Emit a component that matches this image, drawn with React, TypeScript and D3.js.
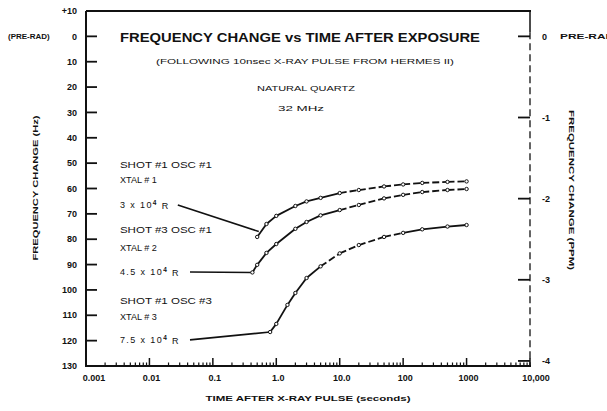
import React, { useEffect, useRef } from "react";
import * as d3 from "d3";

// ---- data ----
const times1 = [0.5, 0.7, 1, 2, 3, 5, 10, 20, 50, 100, 200, 500, 1000];
const hz1 = [-79.1, -74.0, -70.8, -66.9, -65.1, -63.7, -61.8, -60.6, -59.2, -58.4, -57.8, -57.4, -57.2];

const times2 = [0.42, 0.5, 0.7, 1, 2, 3, 5, 10, 20, 50, 100, 200, 500, 1000];
const hz2 = [-93.1, -90.1, -85.4, -81.9, -75.9, -73.2, -70.6, -68.5, -66.5, -63.9, -62.5, -61.4, -60.6, -60.2];

const times3 = [0.8, 1.0, 1.5, 2, 3, 5, 10, 20, 50, 100, 200, 500, 1000];
const hz3 = [-116.6, -113.4, -105.9, -101.2, -95.3, -90.7, -85.6, -82.3, -79.1, -77.5, -76.1, -75.0, -74.4];

// dashed portions of each curve (time ranges)
const dashFrom = [10, 10, 5];
const dashTo = [100000, 100000, 100];

// annotation leader lines: [time, Hz]
const leaderStart = [[0.028, -66.5], [0.0436, -92.9], [0.0436, -119.7]];
const leaderEnd = [[0.53, -77.0], [0.42, -93.1], [0.8, -116.6]];

const annotLines = [
  ["SHOT #1 OSC #1", "XTAL # 1", "3 x 10", "4", " R"],
  ["SHOT #3 OSC #1", "XTAL # 2", "4.5 x 10", "4", " R"],
  ["SHOT #1 OSC #3", "XTAL # 3", "7.5 x 10", "4", " R"],
];
const annotHz = [[-50.5, -56.5, -66.3], [-76.5, -83.5, -92.8], [-104.3, -110.5, -119.7]];

const hzTicks = [10, 0, -10, -20, -30, -40, -50, -60, -70, -80, -90, -100, -110, -120, -130];
const hzTickLabels = ["+10", "0", "10", "20", "30", "40", "50", "60", "70", "80", "90", "100", "110", "120", "130"];
const ppmTicks = [0, -1, -2, -3, -4];
const ppmTickLabels = ["0", "-1", "-2", "-3", "-4"];
const timeTicks = [0.001, 0.01, 0.1, 1, 10, 100, 1000, 10000];
const timeTickLabels = ["0.001", "0.01", "0.1", "1.0", "10.0", "100", "1000", "10,000"];

const MHZ = 32;

export default function App() {
  const ref = useRef<SVGSVGElement>(null);
  useEffect(() => {
    const svg = d3.select(ref.current);
    svg.selectAll("*").remove();
    const W = 607, H = 411;
    const x0 = 86, x1 = 530, y0 = 11, y1 = 366;
    const x = d3.scaleLog().domain([0.001, 10000]).range([x0, x1]);
    const y = d3.scaleLinear().domain([10, -130]).range([y0, y1]);
    const yp = d3.scaleLinear().domain([10 / MHZ, -130 / MHZ]).range([y0, y1]);
    const font = "'Liberation Sans', Arial, sans-serif";
    const ink = "#111";

    svg.append("rect").attr("width", W).attr("height", H).attr("fill", "#fff");

    // frame
    svg.append("line").attr("x1", x0).attr("x2", x1 + 1).attr("y1", y0).attr("y2", y0)
      .attr("stroke", ink).attr("stroke-width", 2);
    svg.append("line").attr("x1", x0).attr("x2", x0).attr("y1", y0).attr("y2", y1 + 1)
      .attr("stroke", ink).attr("stroke-width", 2);
    svg.append("line").attr("x1", x0).attr("x2", x1 + 1).attr("y1", y1).attr("y2", y1)
      .attr("stroke", ink).attr("stroke-width", 2.2);
    svg.append("line").attr("x1", x1).attr("x2", x1).attr("y1", y0).attr("y2", yp(0) - 4)
      .attr("stroke", ink).attr("stroke-width", 1.5);
    svg.append("line").attr("x1", x1).attr("x2", x1).attr("y1", yp(0) - 4).attr("y2", y1)
      .attr("stroke", ink).attr("stroke-width", 1.3).attr("stroke-dasharray", "7,4");

    // left ticks
    hzTicks.forEach((v, i) => {
      if (v !== 10 && v !== -130) {
        svg.append("line").attr("x1", x0).attr("x2", x0 + 11).attr("y1", y(v)).attr("y2", y(v))
          .attr("stroke", ink).attr("stroke-width", 1.8);
      }
      svg.append("text").attr("x", x0 - 9).attr("y", y(v)).attr("dy", "0.35em")
        .attr("text-anchor", "end").attr("font-family", font).attr("font-size", 9)
        .attr("font-weight", "bold").attr("fill", ink).text(hzTickLabels[i]);
    });
    svg.append("text").attr("x", 8).attr("y", y(0)).attr("dy", "0.35em")
      .attr("font-family", font).attr("font-size", 8).attr("font-weight", "bold").attr("fill", ink)
      .text("(PRE-RAD)");

    // right ticks
    ppmTicks.forEach((v, i) => {
      svg.append("line").attr("x1", x1 - 12).attr("x2", x1).attr("y1", yp(v)).attr("y2", yp(v))
        .attr("stroke", ink).attr("stroke-width", 1.8);
      svg.append("text").attr("x", x1 + 12).attr("y", yp(v)).attr("dy", "0.35em")
        .attr("font-family", font).attr("font-size", 9).attr("font-weight", "bold").attr("fill", ink)
        .text(ppmTickLabels[i]);
    });
    svg.append("text").attr("x", x1 + 30).attr("y", yp(0)).attr("dy", "0.35em")
      .attr("font-family", font).attr("font-size", 8).attr("font-weight", "bold").attr("fill", ink)
      .attr("textLength", 58).attr("lengthAdjust", "spacingAndGlyphs")
      .text("PRE-RAD)");

    // bottom ticks (log)
    const minor: number[] = [];
    for (let e = -3; e < 4; e++) for (let m = 2; m < 10; m++) minor.push(m * Math.pow(10, e));
    minor.forEach((v) => {
      svg.append("line").attr("x1", x(v)).attr("x2", x(v)).attr("y1", y1).attr("y2", y1 - 3.5)
        .attr("stroke", ink).attr("stroke-width", 1.2);
    });
    timeTicks.forEach((v, i) => {
      svg.append("line").attr("x1", x(v)).attr("x2", x(v)).attr("y1", y1).attr("y2", y1 - 8)
        .attr("stroke", ink).attr("stroke-width", 1.5);
      svg.append("text").attr("x", x(v) + (i === 0 ? 8 : i === 7 ? 6 : 2)).attr("y", y1 + 15)
        .attr("text-anchor", "middle").attr("font-family", font).attr("font-size", 9)
        .attr("font-weight", "bold").attr("fill", ink).text(timeTickLabels[i]);
    });

    // titles
    svg.append("text").attr("x", 300).attr("y", 42).attr("text-anchor", "middle")
      .attr("font-family", font).attr("font-size", 13.5).attr("font-weight", "bold").attr("fill", ink)
      .attr("textLength", 360).attr("lengthAdjust", "spacingAndGlyphs")
      .text("FREQUENCY CHANGE vs TIME AFTER EXPOSURE");
    svg.append("text").attr("x", 305).attr("y", 64).attr("text-anchor", "middle")
      .attr("font-family", font).attr("font-size", 8).attr("fill", ink)
      .attr("textLength", 298).attr("lengthAdjust", "spacingAndGlyphs")
      .text("(FOLLOWING 10nsec X-RAY PULSE FROM HERMES II)");
    svg.append("text").attr("x", 306).attr("y", 91).attr("text-anchor", "middle")
      .attr("font-family", font).attr("font-size", 8).attr("fill", ink)
      .attr("textLength", 98).attr("lengthAdjust", "spacingAndGlyphs")
      .text("NATURAL QUARTZ");
    svg.append("text").attr("x", 301).attr("y", 111).attr("text-anchor", "middle")
      .attr("font-family", font).attr("font-size", 8).attr("fill", ink)
      .attr("textLength", 46).attr("lengthAdjust", "spacingAndGlyphs")
      .text("32 MHz");

    svg.append("text").attr("transform", "translate(38,188) rotate(-90)").attr("text-anchor", "middle")
      .attr("font-family", font).attr("font-size", 8).attr("font-weight", "bold").attr("fill", ink)
      .attr("textLength", 145).attr("lengthAdjust", "spacingAndGlyphs")
      .text("FREQUENCY CHANGE (Hz)");
    svg.append("text").attr("transform", "translate(569,190) rotate(90)").attr("text-anchor", "middle")
      .attr("font-family", font).attr("font-size", 8).attr("font-weight", "bold").attr("fill", ink)
      .attr("textLength", 160).attr("lengthAdjust", "spacingAndGlyphs")
      .text("FREQUENCY CHANGE (PPM)");
    svg.append("text").attr("x", 308).attr("y", 401).attr("text-anchor", "middle")
      .attr("font-family", font).attr("font-size", 8).attr("font-weight", "bold").attr("fill", ink)
      .attr("textLength", 205).attr("lengthAdjust", "spacingAndGlyphs")
      .text("TIME AFTER X-RAY PULSE (seconds)");

    // annotations
    const annotLen = [92, 37];
    annotLines.forEach((lines, k) => {
      const ax = x(0.00343);
      [0, 1].forEach((j) => {
        svg.append("text").attr("x", ax).attr("y", y(annotHz[k][j])).attr("dy", "0.35em")
          .attr("font-family", font).attr("font-size", 9).attr("fill", ink)
          .attr("textLength", annotLen[j]).attr("lengthAdjust", "spacingAndGlyphs")
          .text(lines[j]);
      });
      const t = svg.append("text").attr("x", ax).attr("y", y(annotHz[k][2])).attr("dy", "0.35em")
        .attr("font-family", font).attr("font-size", 9).attr("letter-spacing", 1.4).attr("fill", ink);
      t.append("tspan").text(lines[2]);
      t.append("tspan").attr("dy", "-0.45em").attr("font-size", 6.5).attr("font-weight", "bold").text(lines[3]);
      t.append("tspan").attr("dy", "0.45em").text(lines[4]);
      svg.append("line")
        .attr("x1", x(leaderStart[k][0])).attr("y1", y(leaderStart[k][1]))
        .attr("x2", x(leaderEnd[k][0])).attr("y2", y(leaderEnd[k][1]))
        .attr("stroke", ink).attr("stroke-width", 1.6);
    });

    // curves
    const series = [[times1, hz1], [times2, hz2], [times3, hz3]];
    series.forEach(([ts, hs], k) => {
      for (let i = 0; i < ts.length - 1; i++) {
        const dashed = ts[i] >= dashFrom[k] && ts[i] < dashTo[k];
        svg.append("line").attr("x1", x(ts[i])).attr("y1", y(hs[i]))
          .attr("x2", x(ts[i + 1])).attr("y2", y(hs[i + 1]))
          .attr("stroke", ink).attr("stroke-width", 1.8)
          .attr("stroke-dasharray", dashed ? "7,3" : null);
      }
      ts.forEach((tv, i) => {
        svg.append("circle").attr("cx", x(tv)).attr("cy", y(hs[i])).attr("r", 1.7)
          .attr("fill", "#fff").attr("stroke", ink).attr("stroke-width", 1);
      });
    });
  }, []);
  return (
    <svg ref={ref} width={607} height={411}
      style={{ position: "absolute", left: 0, top: 0, background: "#fff" }} />
  );
}
